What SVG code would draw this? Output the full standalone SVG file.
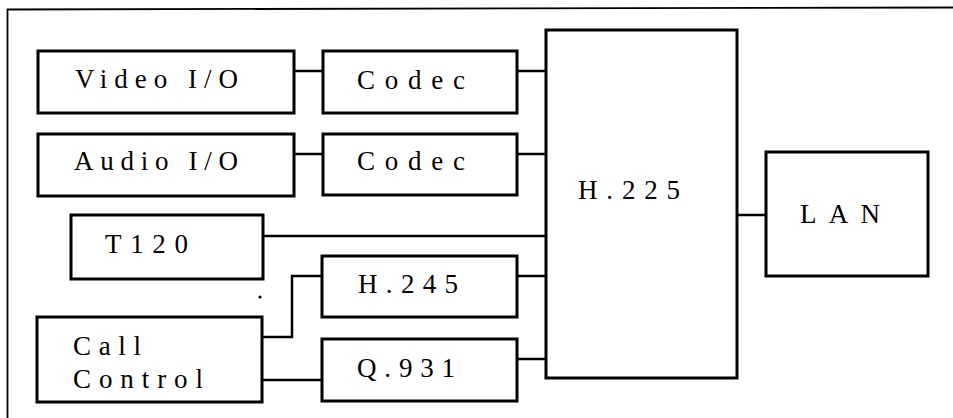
<svg xmlns="http://www.w3.org/2000/svg" width="953" height="418" viewBox="0 0 953 418">
<style>
.box{fill:#fff;stroke:#000;stroke-width:3}
.ln{fill:none;stroke:#000;stroke-width:2.5}
.frame{fill:none;stroke:#000;stroke-width:1.8}
</style>
<rect width="953" height="418" fill="#fff"/>
<g id="frame"><polyline class="frame" points="7.5,418 7.5,9.5 953,7.5"/></g>
<g id="connectors">
<line class="ln" x1="294" y1="71" x2="323" y2="71"/>
<line class="ln" x1="294" y1="154" x2="323" y2="154"/>
<line class="ln" x1="517" y1="71" x2="546" y2="71"/>
<line class="ln" x1="517" y1="154" x2="546" y2="154"/>
<line class="ln" x1="263" y1="236" x2="546" y2="236"/>
<polyline class="ln" points="262,337 292,337 292,276 322,276"/>
<line class="ln" x1="262" y1="380" x2="322" y2="380"/>
<line class="ln" x1="517" y1="276" x2="546" y2="276"/>
<line class="ln" x1="517" y1="359" x2="546" y2="359"/>
<line class="ln" x1="737" y1="215" x2="766" y2="215"/>
</g>
<g font-family="Liberation Serif, Times New Roman, serif" font-size="27" fill="#000">
<g id="video-io"><rect class="box" x="38" y="51" width="256" height="62"/><text x="75" y="88" textLength="163" lengthAdjust="spacing">Video I/O</text></g>
<g id="audio-io"><rect class="box" x="38" y="134" width="256" height="62"/><text x="74" y="170" textLength="164" lengthAdjust="spacing">Audio I/O</text></g>
<g id="codec-video"><rect class="box" x="323" y="51" width="194" height="62"/><text x="357" y="89" textLength="108" lengthAdjust="spacing">Codec</text></g>
<g id="codec-audio"><rect class="box" x="323" y="134" width="194" height="61"/><text x="357" y="170" textLength="108" lengthAdjust="spacing">Codec</text></g>
<g id="t120"><rect class="box" x="71" y="215" width="192" height="64"/><text x="105" y="253" textLength="83" lengthAdjust="spacing">T120</text></g>
<g id="call-control"><rect class="box" x="37" y="317" width="225" height="85"/><text x="73" y="355" textLength="68" lengthAdjust="spacing">Call</text><text x="73" y="388" textLength="130" lengthAdjust="spacing">Control</text></g>
<g id="h245"><rect class="box" x="322" y="256" width="195" height="61"/><text x="358" y="293" textLength="100" lengthAdjust="spacing">H.245</text></g>
<g id="q931"><rect class="box" x="322" y="339" width="195" height="62"/><text x="357" y="377" textLength="98" lengthAdjust="spacing">Q.931</text></g>
<g id="h225"><rect class="box" x="546" y="30" width="191" height="348"/><text x="578" y="199" textLength="102" lengthAdjust="spacing">H.225</text></g>
<g id="lan"><rect class="box" x="766" y="152" width="162" height="124"/><text x="800" y="223" textLength="80" lengthAdjust="spacing">LAN</text></g>
</g>
<circle cx="260" cy="297" r="1.5" fill="#000"/>
</svg>
